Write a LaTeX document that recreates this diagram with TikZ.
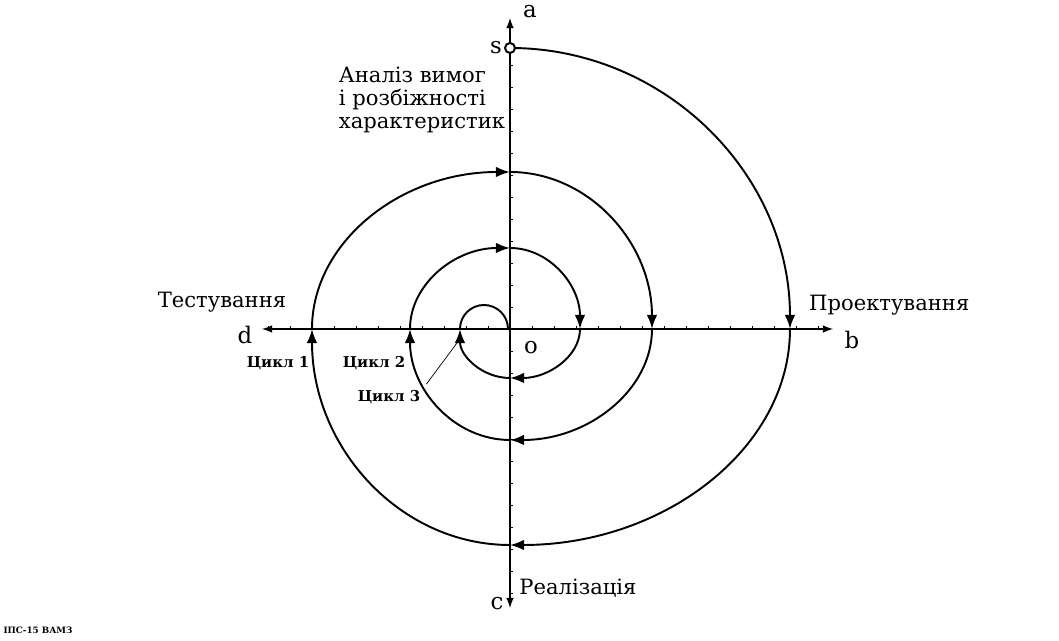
\documentclass[tikz,border=0pt]{standalone}
\usepackage{fontspec}
\setmainfont{DejaVu Serif}
\usetikzlibrary{arrows.meta}
\begin{document}
\begin{tikzpicture}[x=0.02cm,y=0.02cm,>=latex,
  spiral/.style={line width=1.1pt,-{Latex[length=8pt,width=6pt]}},
  lbl/.style={font=\fontsize{12}{13}\selectfont},
  letter/.style={font=\fontsize{13}{14}\selectfont},
  cyklabel/.style={font=\fontsize{8.5}{9}\selectfont\bfseries}]

% ramka
\useasboundingbox (-510,-312) rectangle (549,329);

% osi
\draw[line width=1pt,<->] (-248,0) -- (323,0);
\draw[line width=1pt,<->] (0,-279) -- (0,311);

% pozdilky
\foreach \i in {-11,...,14}
  \draw[thin] (\i*22,0) -- ++(0,3);
\foreach \j in {-12,...,13}
  \draw[thin] (0,\j*22) -- ++(3,0);

% spiral
\foreach \sa/\xr/\yr in {90/280/281, 0/280/216, -90/198/216, -180/198/157,
                         90/142/157, 0/142/111, -90/100/111, -180/100/81,
                         90/70/81, 0/70/49, -90/50/49}
  \draw[spiral] ({\xr*cos(\sa)},{\yr*sin(\sa)}) arc[start angle=\sa, end angle=\sa-90, x radius=\xr, y radius=\yr];
\draw[line width=1.1pt] (-50,0) arc[start angle=180, end angle=0, radius=24];

% pochatok
\draw[line width=1.1pt,fill=white] (0,281) circle (5);

% pidpysy
\node[letter] (a) at (20,317) {a};
\node[letter] (s) at (-14,281) {s};
\node[letter] (b) at (342,-11) {b};
\node[letter] (c) at (-13,-275) {c};
\node[letter] (d) at (-265,-6) {d};
\node[letter] (o) at (21,-19) {o};

\node[lbl,align=left] (analiz) at (-88,229) {Аналіз вимог\\і розбіжності\\характеристик};
\node[lbl] (test) at (-288,27) {Тестування};
\node[lbl,anchor=west] (proekt) at (293,24) {Проектування};
\node[lbl] (real) at (68,-259) {Реалізація};

\node[cyklabel] (cyk1) at (-232,-34) {Цикл 1};
\node[cyklabel] (cyk2) at (-136,-34) {Цикл 2};
\node[cyklabel] (cyk3) at (-121,-68) {Цикл 3};
\coordinate (c3) at (-53,-14);
\draw[thin] (cyk3.north east) -- (c3);

\node[font=\fontsize{5}{6}\selectfont\bfseries] (kod) at (-472,-301) {ІПС-15 ВАМЗ};

\end{tikzpicture}
\end{document}
